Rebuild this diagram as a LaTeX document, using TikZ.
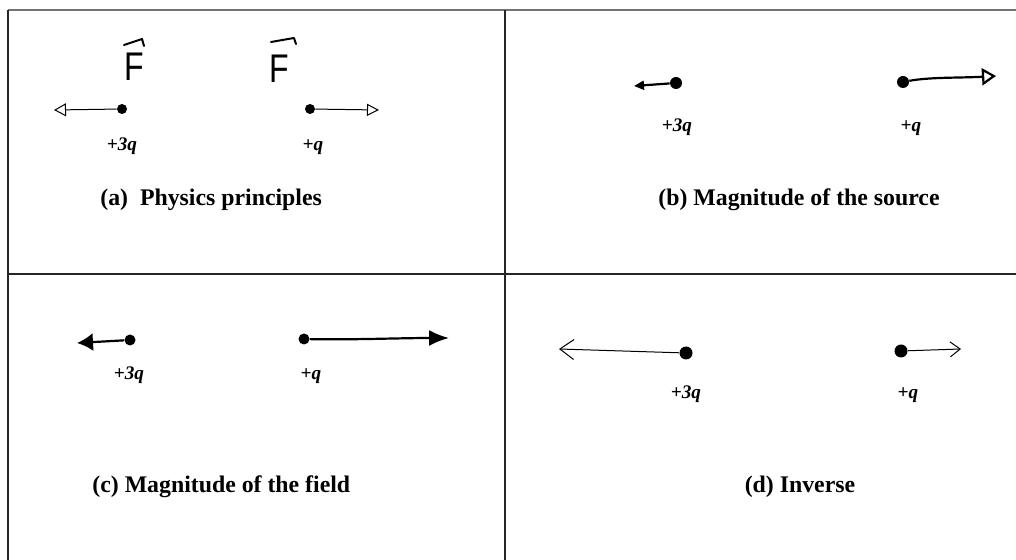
\documentclass[tikz,border=0pt]{standalone}
\usepackage{fontspec}
\setmainfont{Liberation Serif}
\setsansfont{Liberation Sans}
\usetikzlibrary{arrows.meta}
\begin{document}
\begin{tikzpicture}[x=0.5pt,y=-0.5pt,
  frame/.style={line width=0.7pt, draw=black!85},
  topframe/.style={line width=0.8pt, draw=black!55},
  charge/.style={circle, fill=black, inner sep=0pt, minimum size=#1},
  qlabel/.style={font=\fontsize{9.6}{11}\selectfont\bfseries\itshape, inner sep=0pt},
  caption/.style={font=\fontsize{11.9}{14}\selectfont\bfseries, inner sep=0pt},
  flabel/.style={font=\fontsize{20}{22}\sffamily, inner sep=0pt, xscale=0.8},
  thinforce/.style={line width=0.5pt},
  thickforce/.style={line width=1.1pt}]
\useasboundingbox (0,0) rectangle (1016,560);
% frame
\draw[topframe] (8,10) -- (1016,10);
\draw[frame] (8,10) -- (8,560);
\draw[frame] (505,10) -- (505,560);
\draw[frame] (8,274) -- (1016,274);

% ---------- panel (a)
\node[flabel] (fa) at (134,67) {F};
\node[flabel] (fb) at (279,69) {F};
\draw[line width=1pt, line cap=round, line join=round] (124,45) -- (142,39) -- (144,46);
\draw[line width=1pt, line cap=round, line join=round] (271,42) -- (294,38) -- (296,44);
\node[charge=5pt] (a1) at (122,109) {};
\coordinate (a1e) at (54,110);
\draw[thinforce, -{Triangle[open, length=6pt, width=6.5pt]}] (a1) -- (a1e);
\node[charge=5pt] (a2) at (310,109) {};
\coordinate (a2e) at (379,110);
\draw[thinforce, -{Triangle[open, length=6pt, width=6pt]}] (a2) -- (a2e);
\node[qlabel] (la1) at (122,146) {+3q};
\node[qlabel] (la2) at (313,147) {+q};
\node[caption, anchor=west] (ca) at (100,200) {(a)\ \ Physics principles};

% ---------- panel (b)
\node[charge=6pt] (b1) at (676,83) {};
\coordinate (b1e) at (634,86);
\draw[thickforce, -{Triangle[length=5pt, width=4.5pt]}] (b1) -- (b1e);
\node[charge=6pt] (b2) at (903,82) {};
\coordinate (b2e) at (996,76);
\draw[thickforce, -{Triangle[open, length=7pt, width=8.5pt]}] (b2) .. controls (930,77) and (960,78) .. (b2e);
\node[qlabel] (lb1) at (677,127) {+3q};
\node[qlabel] (lb2) at (911,128) {+q};
\node[caption] (cb) at (799,200) {(b) Magnitude of the source};

% ---------- panel (c)
\node[charge=5.5pt] (c1) at (130,340) {};
\coordinate (c1e) at (77,343);
\draw[thickforce, -{Latex[length=8pt, width=9pt]}] (c1) -- (c1e);
\node[charge=5.5pt] (c2) at (304,339) {};
\coordinate (c2e) at (449,338);
\draw[thickforce, -{Latex[length=10pt, width=8pt]}] (c2) .. controls (350,340) and (400,338) .. (c2e);
\node[qlabel] (lc1) at (129,375) {+3q};
\node[qlabel] (lc2) at (311,376) {+q};
\node[caption, anchor=west] (cc) at (92,487) {(c) Magnitude of the field};

% ---------- panel (d)
\node[charge=6.5pt] (d1) at (686,353) {};
\coordinate (d1e) at (559,349);
\draw[thinforce, -{Straight Barb[length=7pt, width=10pt]}] (d1) -- (d1e);
\node[charge=6.5pt] (d2) at (901,351) {};
\coordinate (d2e) at (961,349);
\draw[thinforce, -{Straight Barb[length=5pt, width=7.5pt]}] (d2) -- (d2e);
\node[qlabel] (ld1) at (686,394) {+3q};
\node[qlabel] (ld2) at (908,395) {+q};
\node[caption] (cd) at (800,487) {(d) Inverse};
\end{tikzpicture}
\end{document}
